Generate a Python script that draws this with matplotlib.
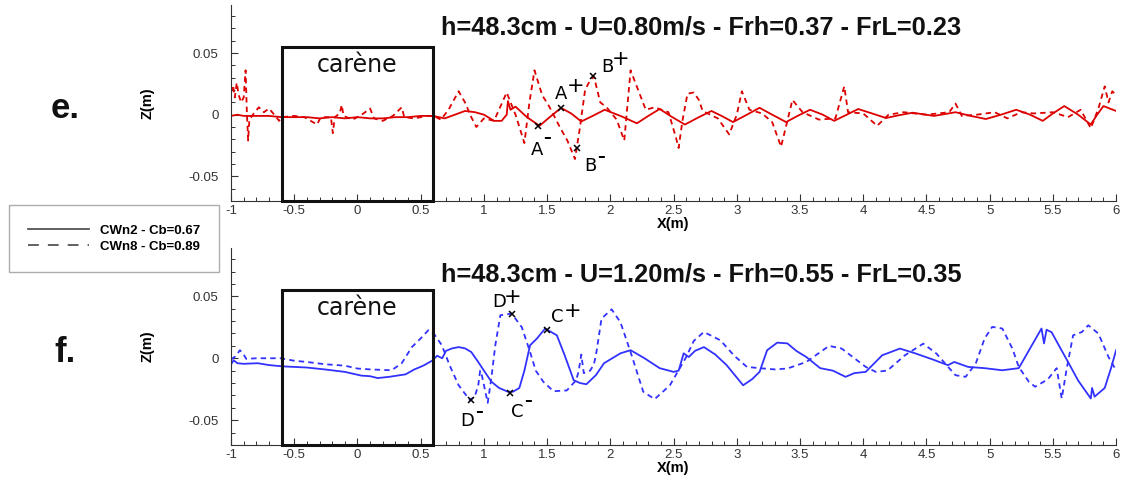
import numpy as np
import matplotlib
matplotlib.use('Agg')
from matplotlib import pyplot as plt
from matplotlib.lines import Line2D
from matplotlib.patches import Rectangle
from matplotlib.ticker import MultipleLocator, FuncFormatter

plt.rcParams['font.family'] = ['Liberation Sans', 'DejaVu Sans']

# Free-surface profiles Z(m) along X(m)
# e. U=0.80 m/s
e_cwn2 = [(-1.0, -0.001), (-0.95, 0.0), (-0.9, -0.001), (-0.8, -0.001), (-0.7, -0.001),
          (-0.6, -0.002), (-0.5, -0.002), (-0.4, -0.002), (-0.3, -0.003), (-0.2, -0.002),
          (-0.1, -0.003), (0.0, -0.002), (0.1, -0.003), (0.2, -0.003), (0.3, -0.002),
          (0.4, -0.002), (0.5, -0.001), (0.6, -0.001), (0.69, -0.003), (0.77, 0.0),
          (0.85, 0.003), (0.93, 0.002), (1.0, 0.0), (1.08, -0.005), (1.14, -0.005),
          (1.18, 0.0), (1.19, 0.011), (1.21, 0.004), (1.25, 0.0065), (1.34, -0.002),
          (1.44, -0.009), (1.52, -0.002), (1.61, 0.0055), (1.69, 0.001), (1.77, -0.0055),
          (1.86, -0.001), (1.955, 0.004), (2.08, -0.001), (2.21, -0.007), (2.30, -0.001),
          (2.39, 0.0046), (2.49, -0.002), (2.59, -0.008), (2.70, -0.002), (2.80, 0.003),
          (2.88, -0.001), (2.97, -0.006), (3.08, 0.0), (3.18, 0.0056), (3.28, 0.0),
          (3.39, -0.006), (3.48, -0.001), (3.58, 0.004), (3.68, 0.0), (3.77, -0.005),
          (3.87, 0.0), (3.96, 0.0046), (4.07, 0.001), (4.18, -0.0027), (4.28, -0.0005),
          (4.39, 0.0016), (4.56, -0.001), (4.73, 0.002), (4.85, -0.001), (4.97, -0.0035),
          (5.09, 0.0), (5.21, 0.004), (5.32, 0.0), (5.42, -0.005), (5.50, 0.001),
          (5.59, 0.007), (5.70, 0.0), (5.80, -0.008), (5.85, 0.0), (5.90, 0.007),
          (5.95, 0.005), (6.0, 0.003)]

e_cwn8 = [(-1.0, 0.018), (-0.985, 0.024), (-0.97, 0.014), (-0.955, 0.026), (-0.94, 0.016),
          (-0.92, 0.010), (-0.90, 0.014), (-0.885, 0.036), (-0.875, 0.002), (-0.865, -0.021),
          (-0.855, -0.004), (-0.82, 0.001), (-0.78, 0.006), (-0.74, 0.002), (-0.70, 0.005),
          (-0.65, -0.001), (-0.62, -0.005), (-0.6, -0.002), (-0.5, -0.001), (-0.42, -0.002),
          (-0.32, -0.008), (-0.29, -0.002), (-0.21, -0.002), (-0.195, -0.015), (-0.18, -0.002),
          (-0.14, 0.001), (-0.125, 0.008), (-0.11, -0.001), (-0.04, -0.004), (0.02, -0.001),
          (0.1, 0.005), (0.13, -0.003), (0.2, -0.005), (0.28, -0.001), (0.35, 0.006),
          (0.37, -0.002), (0.45, -0.003), (0.55, -0.001), (0.6, -0.001), (0.66, -0.004),
          (0.72, 0.004), (0.80, 0.019), (0.85, 0.010), (0.90, -0.002), (0.94, -0.010),
          (1.0, -0.003), (1.08, -0.005), (1.18, 0.018), (1.25, 0.0), (1.32, -0.023),
          (1.36, 0.010), (1.40, 0.036), (1.46, 0.016), (1.52, 0.006), (1.60, -0.010),
          (1.66, -0.021), (1.72, -0.036), (1.76, -0.010), (1.80, 0.020), (1.84, 0.028),
          (1.87, 0.031), (1.92, 0.010), (1.97, 0.006), (2.05, -0.004), (2.11, -0.021),
          (2.16, 0.036), (2.22, 0.020), (2.28, 0.004), (2.35, 0.006), (2.46, 0.002),
          (2.52, -0.019), (2.54, -0.027), (2.57, -0.005), (2.61, 0.017), (2.66, 0.018),
          (2.70, 0.012), (2.73, 0.003), (2.85, -0.003), (2.94, -0.016), (3.00, 0.0),
          (3.04, 0.019), (3.10, 0.004), (3.20, 0.001), (3.28, -0.006), (3.35, -0.026),
          (3.40, -0.005), (3.44, 0.012), (3.52, 0.002), (3.65, -0.004), (3.78, -0.003),
          (3.85, 0.023), (3.88, 0.002), (4.0, 0.001), (4.11, -0.009), (4.2, 0.0),
          (4.32, 0.002), (4.5, 0.0), (4.68, 0.002), (4.73, 0.009), (4.78, -0.001),
          (4.9, 0.0), (5.04, 0.002), (5.14, -0.003), (5.25, 0.002), (5.35, 0.001),
          (5.5, 0.002), (5.62, -0.002), (5.72, 0.004), (5.80, -0.011), (5.86, 0.005),
          (5.91, 0.023), (5.94, 0.010), (5.97, 0.019), (6.0, 0.016)]

# f. U=1.20 m/s
f_cwn2 = [(-1.0, -0.005), (-0.98, -0.0016), (-0.95, -0.004), (-0.9, -0.0045), (-0.79, -0.004),
          (-0.7, -0.0055), (-0.6, -0.0065), (-0.5, -0.007), (-0.4, -0.0075), (-0.26, -0.009),
          (-0.1, -0.011), (0.03, -0.014), (0.1, -0.0145), (0.16, -0.016), (0.25, -0.015),
          (0.38, -0.013), (0.45, -0.009), (0.52, -0.006), (0.59, -0.002), (0.63, 0.002),
          (0.67, 0.0), (0.70, 0.006), (0.75, 0.008), (0.80, 0.009), (0.85, 0.008),
          (0.90, 0.005), (0.955, -0.003), (1.0, -0.010), (1.06, -0.019), (1.12, -0.024),
          (1.19, -0.027), (1.23, -0.027), (1.28, -0.024), (1.32, -0.010), (1.365, 0.0105),
          (1.42, 0.016), (1.484, 0.024), (1.577, 0.0185), (1.64, 0.002), (1.71, -0.0177),
          (1.76, -0.020), (1.81, -0.021), (1.885, -0.0137), (1.95, -0.004), (2.08, 0.004),
          (2.16, 0.0065), (2.27, 0.0), (2.39, -0.008), (2.50, -0.011), (2.54, -0.010),
          (2.58, 0.004), (2.62, 0.001), (2.67, 0.006), (2.74, 0.009), (2.83, 0.003),
          (2.92, -0.0056), (3.05, -0.0218), (3.12, -0.017), (3.18, -0.011), (3.24, 0.0065),
          (3.32, 0.0126), (3.40, 0.012), (3.47, 0.006), (3.55, 0.001), (3.66, -0.008),
          (3.76, -0.010), (3.86, -0.015), (3.93, -0.012), (4.02, -0.011), (4.15, 0.0024),
          (4.29, 0.0078), (4.41, 0.004), (4.55, -0.001), (4.67, -0.0056), (4.72, -0.003),
          (4.83, -0.007), (4.96, -0.008), (5.10, -0.0097), (5.23, -0.008), (5.32, 0.008),
          (5.41, 0.024), (5.43, 0.012), (5.45, 0.023), (5.49, 0.021), (5.56, 0.008),
          (5.62, -0.003), (5.70, -0.018), (5.80, -0.0325), (5.81, -0.024), (5.83, -0.031),
          (5.91, -0.024), (5.96, -0.008), (6.0, 0.0065)]

f_cwn8 = [(-1.0, -0.001), (-0.96, 0.002), (-0.93, 0.0065), (-0.90, 0.003), (-0.88, -0.0005),
          (-0.8, 0.0), (-0.7, 0.0), (-0.61, 0.0), (-0.5, -0.002), (-0.4, -0.003),
          (-0.26, -0.0048), (-0.1, -0.006), (0.0, -0.0083), (0.1, -0.009), (0.27, -0.0097),
          (0.35, -0.004), (0.43, 0.009), (0.50, 0.016), (0.56, 0.0226), (0.61, 0.019),
          (0.667, 0.0105), (0.73, -0.006), (0.80, -0.0218), (0.89, -0.034), (0.93, -0.030),
          (0.955, -0.022), (0.97, -0.010), (0.98, -0.012), (1.03, -0.036), (1.06, -0.015),
          (1.09, 0.0105), (1.13, 0.0347), (1.22, 0.036), (1.30, 0.025), (1.365, 0.005),
          (1.41, -0.010), (1.47, -0.019), (1.55, -0.0266), (1.655, -0.026), (1.73, -0.0177),
          (1.75, -0.010), (1.77, 0.003), (1.79, -0.012), (1.84, -0.010), (1.87, -0.005),
          (1.89, 0.005), (1.93, 0.032), (2.01, 0.0395), (2.08, 0.029), (2.16, 0.005),
          (2.26, -0.027), (2.35, -0.033), (2.47, -0.022), (2.60, 0.001), (2.66, 0.014),
          (2.74, 0.0212), (2.87, 0.0145), (2.98, 0.002), (3.08, -0.007), (3.18, -0.008),
          (3.30, -0.009), (3.40, -0.0083), (3.55, -0.003), (3.73, 0.010), (3.83, 0.0078),
          (3.93, 0.0), (4.02, -0.007), (4.10, -0.011), (4.19, -0.010), (4.33, 0.0024),
          (4.475, 0.0118), (4.58, 0.0037), (4.68, -0.008), (4.73, -0.0137), (4.81, -0.015),
          (4.89, -0.0043), (4.96, 0.0159), (5.02, 0.0253), (5.10, 0.024), (5.18, 0.0078),
          (5.23, -0.007), (5.31, -0.019), (5.36, -0.023), (5.46, -0.017), (5.53, -0.008),
          (5.57, -0.0325), (5.61, -0.008), (5.66, 0.0185), (5.73, 0.0212), (5.78, 0.0266),
          (5.86, 0.0199), (5.94, 0.001), (6.0, -0.0097)]

# marked crests / troughs: letter, sign, x, z
e_points = [('A', '-', 1.43, -0.009), ('A', '+', 1.608, 0.0054),
            ('B', '+', 1.864, 0.031), ('B', '-', 1.735, -0.027)]
f_points = [('D', '+', 1.22, 0.036), ('D', '-', 0.90, -0.034),
            ('C', '-', 1.21, -0.028), ('C', '+', 1.50, 0.0226)]

# pixel offsets of letter and sign from the cross
label_offsets = {('A', '-'): ((-1, -24), (9, -12)), ('A', '+'): ((0, 14), (15, 22)),
                 ('B', '+'): ((14, 9), (27, 17)), ('B', '-'): ((14, -18), (24, -9)),
                 ('D', '+'): ((-13, 12), (1, 17)), ('D', '-'): ((-4, -21), (8, -11)),
                 ('C', '-'): ((7, -19), (18, -8)), ('C', '+'): ((10, 13), (25, 19))}

titles = ['h=48.3cm - U=0.80m/s - Frh=0.37 - FrL=0.23',
          'h=48.3cm - U=1.20m/s - Frh=0.55 - FrL=0.35']
panel_tags = ['e.', 'f.']
legend_labels = ['CWn2 - Cb=0.67', 'CWn8 - Cb=0.89']
hull_x = (-0.6, 0.6)
hull_top = 0.055

fig = plt.figure(figsize=(11.26, 4.83), dpi=100)
ax_e = fig.add_axes([0.2052, 0.5839, 0.7860, 0.4058])
ax_f = fig.add_axes([0.2052, 0.0787, 0.7860, 0.4079])

fmt = FuncFormatter(lambda v, p: '%g' % round(v, 4))

panels = [(ax_e, e_cwn2, e_cwn8, '#dc0000', e_points, 0.885),
          (ax_f, f_cwn2, f_cwn8, '#3232ff', f_points, 0.865)]

for i, (ax, solid, dashed, col, pts, ty) in enumerate(panels):
    s = np.array(solid)
    d = np.array(dashed)
    ax.plot(s[:, 0], s[:, 1], color=col, lw=1.3)
    ax.plot(d[:, 0], d[:, 1], color=col, lw=1.3, linestyle=(0, (3, 2.3)))

    ax.set_xlim(-1, 6)
    ax.set_ylim(-0.07, 0.089)
    for sp in ['top', 'right']:
        ax.spines[sp].set_visible(False)
    for sp in ['left', 'bottom']:
        ax.spines[sp].set_color('#333333')
        ax.spines[sp].set_linewidth(0.8)
    ax.xaxis.set_major_locator(MultipleLocator(0.5))
    ax.xaxis.set_minor_locator(MultipleLocator(0.1))
    ax.yaxis.set_major_locator(MultipleLocator(0.05))
    ax.yaxis.set_minor_locator(MultipleLocator(0.01))
    ax.xaxis.set_major_formatter(fmt)
    ax.yaxis.set_major_formatter(fmt)
    ax.tick_params(which='both', direction='in', colors='#333333', labelsize=9.5)
    ax.tick_params(which='major', length=5, width=0.8)
    ax.tick_params(which='minor', length=3, width=0.7)
    ax.tick_params(axis='x', pad=3)
    ax.tick_params(axis='y', pad=9)

    ax.set_xlabel('X(m)', fontsize=10.5, fontweight='bold', labelpad=0)
    ax.set_ylabel('Z(m)', fontsize=10.5, fontweight='bold')
    ax.yaxis.set_label_coords(-0.086, 0.5)

    # hull outline
    ax.add_patch(Rectangle((hull_x[0], -0.07), hull_x[1] - hull_x[0], hull_top + 0.07,
                           fill=False, ec='#111111', lw=2.2, clip_on=False, zorder=5))
    ax.text(0.0, 0.035, 'carène', family='DejaVu Sans', fontsize=17,
            ha='center', va='baseline', color='#111111')

    ax.text(0.531, ty, titles[i], transform=ax.transAxes, ha='center', va='center',
            fontsize=18.3, fontweight='bold', color='#111111')
    ax.text(-0.188, 0.47, panel_tags[i], transform=ax.transAxes, ha='center', va='center',
            fontsize=25, fontweight='bold', color='#111111')

    for letter, sign, px, pz in pts:
        ax.plot(px, pz, marker='x', color='black', ms=5, mew=1.1, zorder=6)
        (lx, ly), (sx, sy) = label_offsets[(letter, sign)]
        ax.annotate(letter, (px, pz), xytext=(lx, ly), textcoords='offset pixels',
                    ha='center', va='center', fontsize=13, family='DejaVu Sans')
        if sign == '+':
            ax.annotate('+', (px, pz), xytext=(sx, sy), textcoords='offset pixels',
                        ha='center', va='center', fontsize=15, family='DejaVu Sans')
        else:
            ax.annotate('\u2013', (px, pz), xytext=(sx, sy), textcoords='offset pixels',
                        ha='center', va='center', fontsize=11, fontweight='bold',
                        family='DejaVu Sans')

handles = [Line2D([], [], color='#555555', lw=1.3),
           Line2D([], [], color='#555555', lw=1.3, linestyle=(0, (6, 5)))]
leg = fig.legend(handles, legend_labels, loc='center', bbox_to_anchor=(114 / 1126, 1 - 238.5 / 483),
                 frameon=True, fancybox=False, edgecolor='#999999', borderpad=1.45,
                 labelspacing=0.3, handlelength=4.6, handletextpad=0.85, borderaxespad=0,
                 prop={'weight': 'bold', 'size': 9.5})
leg.get_frame().set_linewidth(1.0)

fig.savefig('out.png', dpi=100)
